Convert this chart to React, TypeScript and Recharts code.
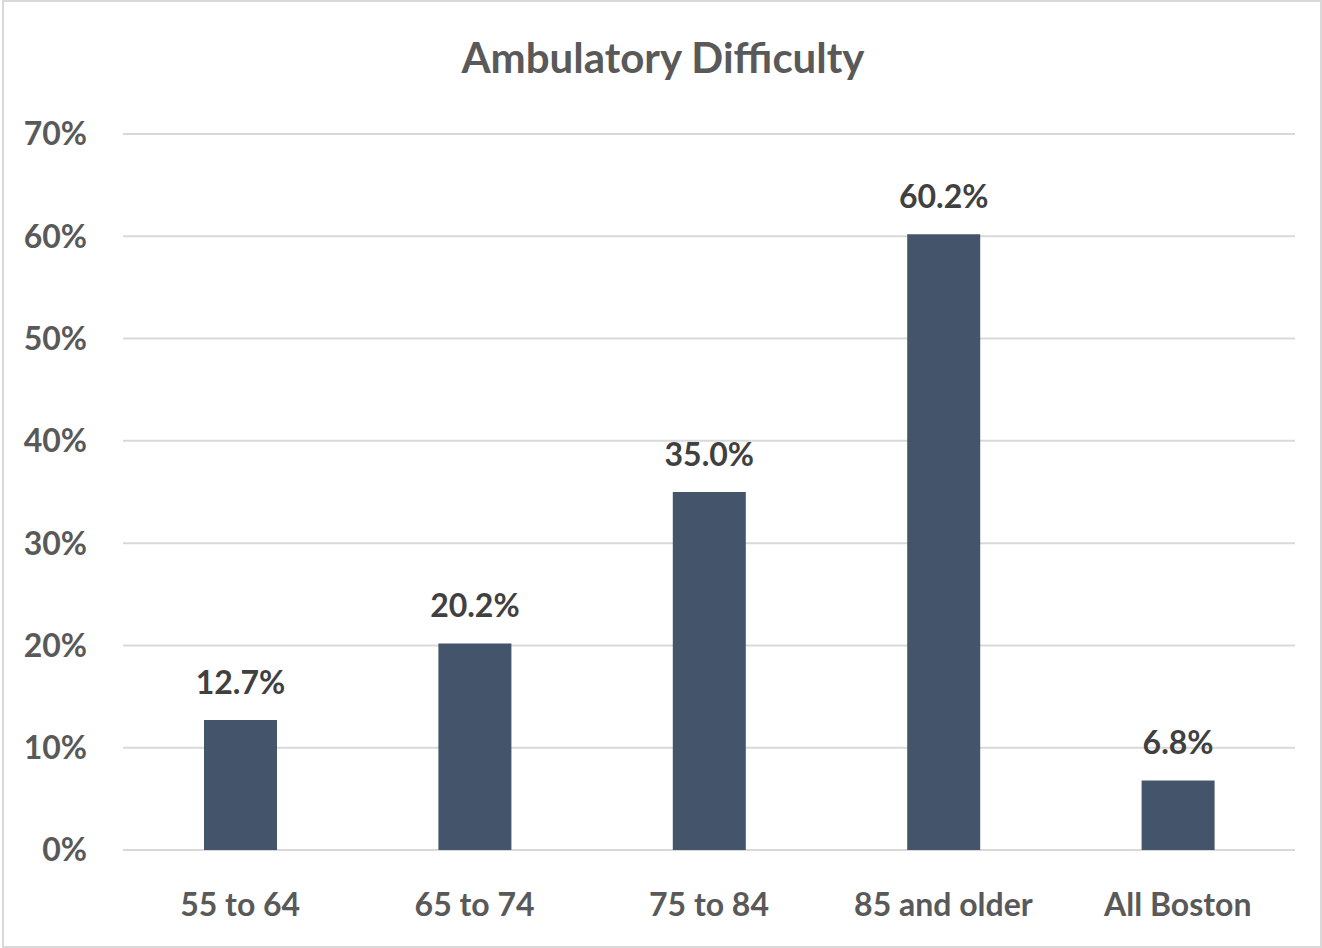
import {BarChart, Bar, XAxis, YAxis, CartesianGrid, LabelList} from 'recharts';

const categories = ['55 to 64', '65 to 74', '75 to 84', '85 and older', 'All Boston'];
const values = [12.7, 20.2, 35.0, 60.2, 6.8];
const yTicks = [0, 10, 20, 30, 40, 50, 60, 70];

const FONT = 'Lato, "Open Sans", sans-serif';

export default function App() {
    const chartData = categories.map((name, i) => ({name, value: values[i]}));

    return (
        <div style={{position: 'absolute', left: 0, top: 0, width: 1322, height: 948, background: '#fff', fontFamily: FONT}}>
            <div style={{position: 'absolute', left: 2, top: 0, width: 1316, height: 944, border: '2px solid #d9d9d9'}}/>
            <div style={{
                position: 'absolute', left: 0, top: 32, width: 1326, textAlign: 'center',
                fontSize: 42, fontWeight: 700, color: '#595959'
            }}>
                Ambulatory Difficulty
            </div>
            <BarChart
                width={1322}
                height={948}
                data={chartData}
                margin={{top: 134, right: 27, bottom: 0, left: 0}}
                style={{position: 'absolute', left: 0, top: 0}}
            >
                <CartesianGrid vertical={false} stroke="#d9d9d9" strokeWidth={2}/>
                <XAxis
                    dataKey="name"
                    axisLine={false}
                    tickLine={false}
                    tickSize={0}
                    tickMargin={43}
                    height={98}
                    tick={{fill: '#595959', fontSize: 32, fontWeight: 700, fontFamily: FONT}}
                    interval={0}
                />
                <YAxis
                    domain={[0, 70]}
                    ticks={yTicks}
                    width={123}
                    axisLine={false}
                    tickLine={false}
                    tickSize={0}
                    tickMargin={36}
                    tickFormatter={(v: number) => `${v}%`}
                    tick={{fill: '#595959', fontSize: 32, fontWeight: 700, fontFamily: FONT}}
                />
                <Bar dataKey="value" fill="#44546a" barSize={73} isAnimationActive={false}>
                    <LabelList
                        dataKey="value"
                        position="top"
                        offset={26}
                        formatter={(v: number) => `${v.toFixed(1)}%`}
                        style={{fill: '#404040', fontSize: 32, fontWeight: 700, fontFamily: FONT}}
                    />
                </Bar>
            </BarChart>
        </div>
    );
}
